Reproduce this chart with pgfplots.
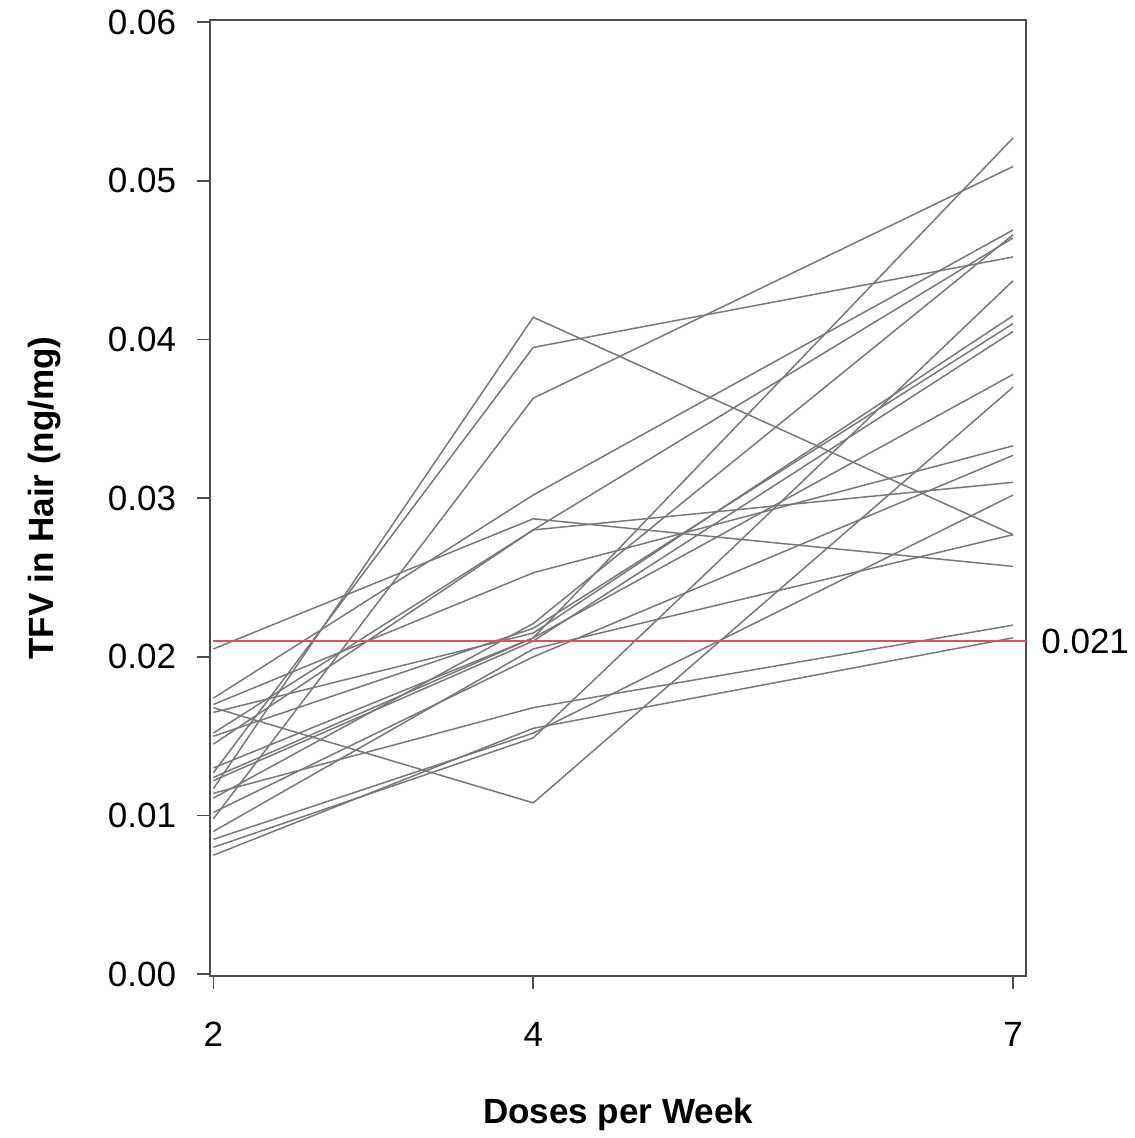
\documentclass[border=0pt]{standalone}
\usepackage{fontspec}
\setmainfont{Liberation Sans}
\usepackage{pgfplots}
\pgfplotsset{compat=1.18}

\definecolor{tfvgray}{RGB}{120,120,120}
\definecolor{cutred}{RGB}{226,80,96}
\pgfplotsset{tfv/.style={tfvgray, line width=0.75pt, no marks}}

\begin{document}
\begin{tikzpicture}
\begin{axis}[
  at={(0,0)}, anchor=south west,
  width=407.5pt, height=477.5pt, scale only axis,
  xmin=1.98, xmax=7.08, ymin=-0.0001, ymax=0.06013,
  xtick={2,4,7}, ytick={0,0.01,...,0.06},
  scaled y ticks=false,
  yticklabel style={/pgf/number format/fixed, /pgf/number format/fixed zerofill, /pgf/number format/precision=2, xshift=-7pt},
  xticklabel style={yshift=-13pt},
  /pgf/number format/assume math mode=true,
  tick align=outside, tick pos=left, major tick length=6.5pt,
  tick style={line width=0.8pt, black!70},
  axis line style={line width=0.8pt, black!70},
  ticklabel style={font=\fontsize{17.5}{20}\selectfont},
  xlabel={\textbf{Doses per Week}},
  ylabel={\textbf{TFV in Hair (ng/mg)}},
  label style={font=\fontsize{17.5}{20}\selectfont},
  xlabel style={at={(axis description cs:0.5,-0.145)}, anchor=center},
  ylabel style={at={(axis description cs:-0.2025,0.5)}, anchor=center},
  clip=false,
]
\addplot[tfv] coordinates {(2,0.0117) (4,0.0414) (7,0.0277)};
\addplot[tfv] coordinates {(2,0.0127) (4,0.0395) (7,0.0452)};
\addplot[tfv] coordinates {(2,0.0098) (4,0.0363) (7,0.0509)};
\addplot[tfv] coordinates {(2,0.0205) (4,0.0287) (7,0.0257)};
\addplot[tfv] coordinates {(2,0.0168) (4,0.0108) (7,0.0370)};
\addplot[tfv] coordinates {(2,0.0124) (4,0.0212) (7,0.0527)};
\addplot[tfv] coordinates {(2,0.0174) (4,0.0302) (7,0.0469)};
\addplot[tfv] coordinates {(2,0.0111) (4,0.0221) (7,0.0466)};
\addplot[tfv] coordinates {(2,0.0152) (4,0.0280) (7,0.0464)};
\addplot[tfv] coordinates {(2,0.0080) (4,0.0149) (7,0.0437)};
\addplot[tfv] coordinates {(2,0.0075) (4,0.0155) (7,0.0212)};
\addplot[tfv] coordinates {(2,0.0114) (4,0.0168) (7,0.0220)};
\addplot[tfv] coordinates {(2,0.0165) (4,0.0215) (7,0.0415)};
\addplot[tfv] coordinates {(2,0.0150) (4,0.0218) (7,0.0410)};
\addplot[tfv] coordinates {(2,0.0122) (4,0.0210) (7,0.0405)};
\addplot[tfv] coordinates {(2,0.0170) (4,0.0253) (7,0.0333)};
\addplot[tfv] coordinates {(2,0.0102) (4,0.0200) (7,0.0327)};
\addplot[tfv] coordinates {(2,0.0145) (4,0.0280) (7,0.0310)};
\addplot[tfv] coordinates {(2,0.0085) (4,0.0152) (7,0.0302)};
\addplot[tfv] coordinates {(2,0.0130) (4,0.0212) (7,0.0378)};
\addplot[tfv] coordinates {(2,0.0090) (4,0.0205) (7,0.0277)};
\addplot[cutred, line width=1pt, no marks] coordinates {(2,0.021) (7.08,0.021)};
\node[anchor=west, font=\fontsize{17.5}{20}\selectfont, inner sep=0pt]
  at (axis cs:7.08,0.021) [xshift=7.5pt] {0.021};
\end{axis}
\pgfresetboundingbox
\path[use as bounding box] (-105pt,-81pt) rectangle (462pt,487.5pt);
\end{tikzpicture}
\end{document}
